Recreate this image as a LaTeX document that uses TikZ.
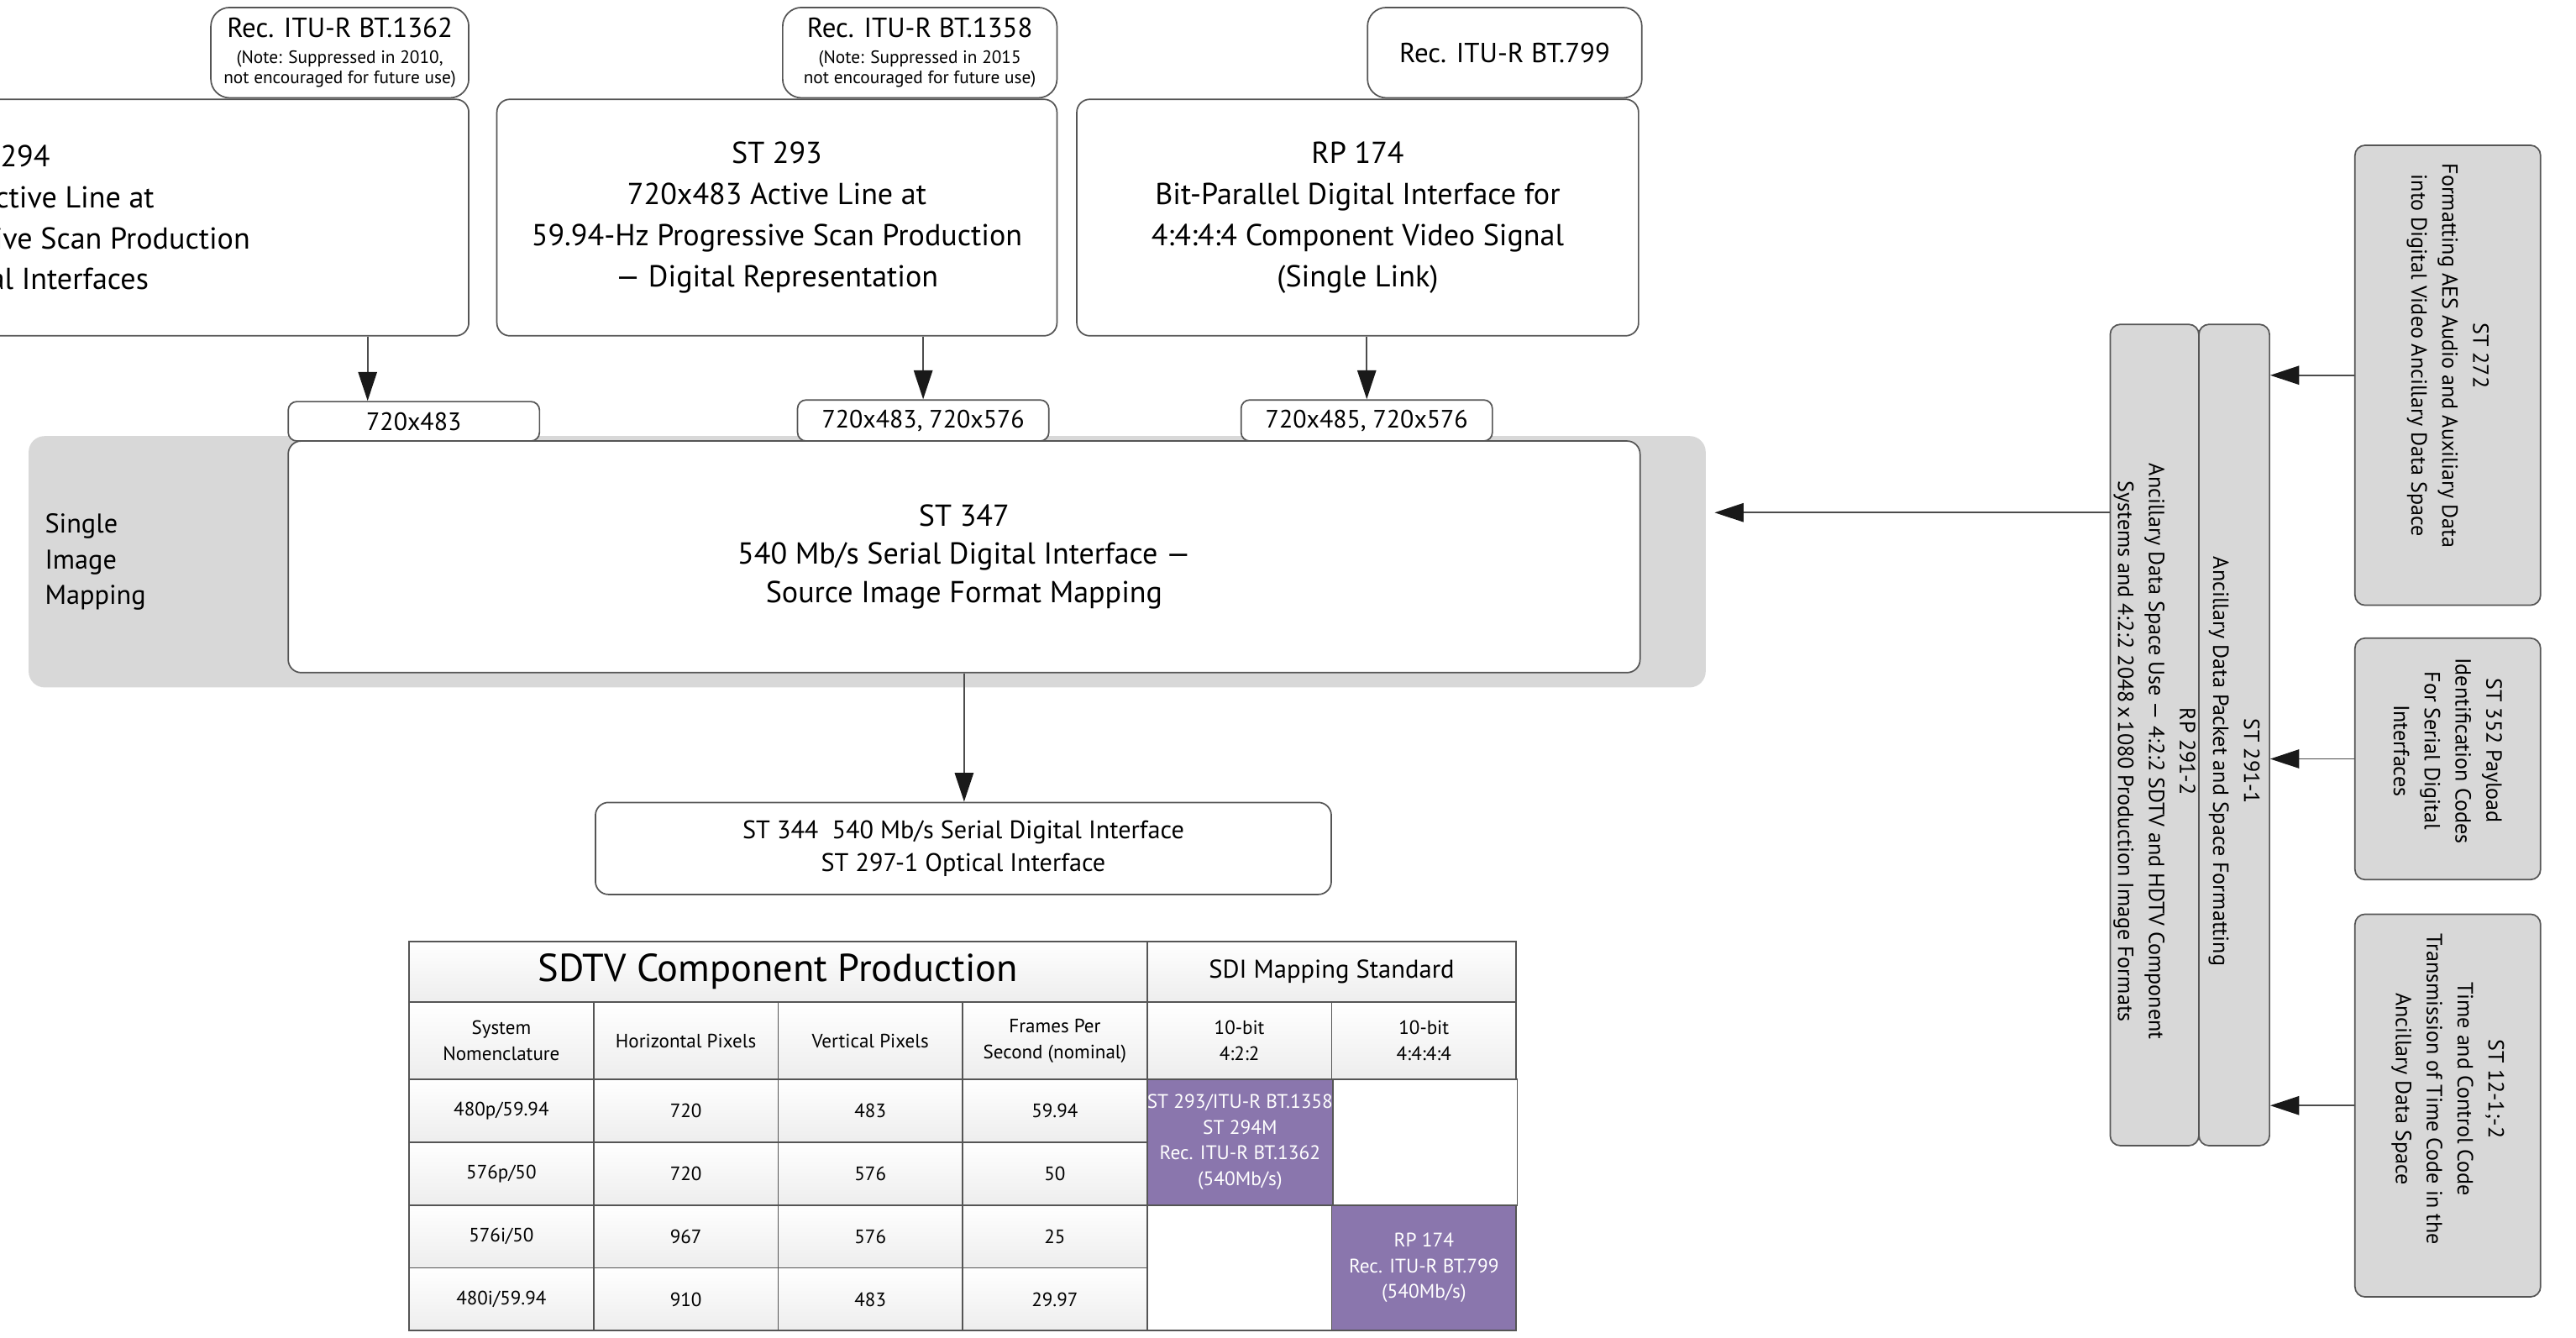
\documentclass[tikz,border=0pt]{standalone}
\usepackage{fontspec}
\setmainfont{PT Sans}
\usetikzlibrary{arrows.meta, positioning, calc}

\definecolor{bandgray}{RGB}{216,216,216}
\definecolor{sdipurple}{RGB}{138,118,173}
\definecolor{edge}{RGB}{85,85,85}

\begin{document}
\begin{tikzpicture}[
    x=0.02cm, y=-0.02cm,
    box/.style     = {rectangle, draw=edge, line width=0.5pt, fill=white,
                      rounded corners=4.5pt, inner sep=0pt, align=center,
                      anchor=north west},
    bigbox/.style  = {box, minimum height=2.88cm,
                      font=\fontsize{10.5}{14.2}\selectfont},
    recbox/.style  = {box, rounded corners=6.5pt, minimum height=1.1cm,
                      font=\fontsize{6.2}{6.9}\selectfont},
    fmtbox/.style  = {box, rounded corners=3pt, minimum width=3.06cm,
                      minimum height=0.5cm, font=\fontsize{8.7}{10}\selectfont},
    ancbox/.style  = {box, fill=bandgray, rounded corners=3.5pt},
    vtext/.style   = {rotate=-90, align=center, inner sep=0pt,
                      font=\fontsize{7.6}{10.7}\selectfont},
    bandlbl/.style = {align=left, anchor=west, inner sep=0pt,
                      font=\fontsize{9.4}{12.5}\selectfont},
    cellbase/.style= {rectangle, draw=edge, line width=0.5pt, inner sep=0pt,
                      outer sep=0pt, align=center, minimum width=2.2467cm,
                      minimum height=0.765cm,
                      font=\fontsize{6.7}{9}\selectfont},
    cell/.style    = {cellbase, top color=white, bottom color=black!7},
    sdicell/.style = {cellbase, fill=white, minimum height=1.53cm,
                      anchor=north west},
    purple/.style  = {sdicell, fill=sdipurple, text=white,
                      font=\fontsize{6.8}{8.9}\selectfont},
    arrow/.style   = {draw=black!70, line width=0.5pt,
                      -{Triangle[length=10pt, width=6.5pt, color=black!90]}}
]
\useasboundingbox (0,0) rectangle (1568,814);
\clip (0,0) rectangle (1568,814);

% ---- source formats ----
\node[bigbox, minimum width=11.3cm] (st294) at (-280,60)
    {ST 294\\720x483 Active Line at\\59.94-Hz Progressive Scan Production\\— Bit-Serial Interfaces};
\node[bigbox, minimum width=6.82cm] (st293) at (302,60)
    {ST 293\\720x483 Active Line at\\59.94-Hz Progressive Scan Production\\— Digital Representation};
\node[bigbox, minimum width=6.84cm] (rp174) at (655,60)
    {RP 174\\Bit-Parallel Digital Interface for\\4:4:4:4 Component Video Signal\\(Single Link)};

\node[recbox, minimum width=3.14cm, anchor=south east] (bt1362) at (st294.north east)
    {\fontsize{9.55}{11}\selectfont Rec. ITU-R BT.1362\\[2pt](Note: Suppressed in 2010,\\not encouraged for future use)};
\node[recbox, minimum width=3.34cm, anchor=south east] (bt1358) at (st293.north east)
    {\fontsize{9.55}{11}\selectfont Rec. ITU-R BT.1358\\[2pt](Note: Suppressed in 2015\\not encouraged for future use)};
\node[recbox, minimum width=3.34cm, anchor=south east,
      font=\fontsize{9.55}{11}\selectfont] (bt799) at ([xshift=0.04cm]rp174.north east)
    {Rec. ITU-R BT.799};

% ---- single image mapping ----
\node[box, fill=bandgray, draw=none, rounded corners=5.5pt,
      minimum width=20.42cm, minimum height=3.06cm] (band) at (17,265) {};
\node[bandlbl] (bandtxt) at (27,342) {Single\\Image\\Mapping};
\node[box, minimum width=16.46cm, minimum height=2.82cm,
      font=\fontsize{10.5}{13.2}\selectfont] (st347) at (175,268)
    {ST 347\\540 Mb/s Serial Digital Interface —\\Source Image Format Mapping};

\node[fmtbox, minimum height=0.48cm] (f483) at (175,244) {720x483};
\node[fmtbox] (f576) at (485,243) {720x483, 720x576};
\node[fmtbox] (f485) at (755,243) {720x485, 720x576};

\draw[arrow] ($(st294.south east)+(-62,0)$) coordinate (a294) -- (a294 |- f483.north);
\draw[arrow] (st293.south -| f576.north) -- (f576.north);
\draw[arrow] (rp174.south -| f485.north) -- (f485.north);

% ---- interface ----
\node[box, minimum width=8.96cm, minimum height=1.12cm,
      font=\fontsize{8.8}{11.3}\selectfont] (st344) at (362,488)
    {ST 344\ \ 540 Mb/s Serial Digital Interface\\ST 297-1 Optical Interface};
\draw[arrow] (st347.south) -- (st347.south |- st344.north);

% ---- ancillary data ----
\node[ancbox, minimum width=1.08cm, minimum height=10cm] (rp291) at (1284,197) {};
\node[ancbox, minimum width=0.86cm, minimum height=10cm] (st291) at (1338,197) {};
\node[ancbox, minimum width=2.26cm, minimum height=5.6cm] (st272) at (1433,88) {};
\node[ancbox, minimum width=2.26cm, minimum height=2.94cm] (st352) at (1433,388) {};
\node[ancbox, minimum width=2.26cm, minimum height=4.66cm] (st12) at (1433,556) {};

\node[vtext] (rp291txt) at ($(rp291)+(0,10)$)
    {RP 291-2\\Ancillary Data Space Use — 4:2:2 SDTV and HDTV Component\\Systems and 4:2:2 2048\,x\,1080 Production Image Formats};
\node[vtext] (st291txt) at ($(st291)+(0,16)$)
    {ST 291-1\\Ancillary Data Packet and Space Formatting};
\node[vtext] (st272txt) at ($(st272)+(0,-12)$)
    {ST 272\\Formatting AES Audio and Auxiliary Data\\into Digital Video Ancillary Data Space};
\node[vtext] (st352txt) at ($(st352)+(0,-5)$)
    {ST 352 Payload\\Identification Codes\\For Serial Digital\\Interfaces};
\node[vtext] (st12txt) at ($(st12)+(0,-10)$)
    {ST 12-1;-2\\Time and Control Code\\Transmission of Time Code in the\\Ancillary Data Space};

\draw[arrow] (st272.west) -- (st272.west -| st291.east);
\draw[arrow] (st352.west) -- (st352.west -| st291.east);
\draw[arrow] (st12.west) -- (st12.west -| st291.east);
\draw[arrow] ($(rp291.north west)+(0,115)$) coordinate (a291)
    -- ([xshift=0.1cm]band.east |- a291);

% ---- SDTV table ----
\node[cell, anchor=north west, minimum width=8.987cm, minimum height=0.74cm,
      font=\fontsize{13.5}{16}\selectfont] (hsdtv) at (249,573)
    {SDTV Component Production};
\node[cell, right=0pt of hsdtv, minimum width=4.493cm, minimum height=0.74cm,
      font=\fontsize{8.9}{10}\selectfont] (hsdi) {SDI Mapping Standard};

\node[cell, anchor=north west, minimum height=0.94cm] (hsys) at (hsdtv.south west) {System\\Nomenclature};
\node[cell, right=0pt of hsys, minimum height=0.94cm] (hhor) {Horizontal Pixels};
\node[cell, right=0pt of hhor, minimum height=0.94cm] (hver) {Vertical Pixels};
\node[cell, right=0pt of hver, minimum height=0.94cm] (hfps) {Frames Per\\Second (nominal)};
\node[cell, right=0pt of hfps, minimum height=0.94cm] (h422) {10-bit\\4:2:2};
\node[cell, right=0pt of h422, minimum height=0.94cm] (h444) {10-bit\\4:4:4:4};

\foreach \nm/\hp/\vp/\fr [count=\r from 0] in
    {{480p/59.94}/720/483/59.94, {576p/50}/720/576/50,
     {576i/50}/967/576/25, {480i/59.94}/910/483/29.97}{
  \node[cell, anchor=north west] (nom\r) at (249,657+38.25*\r) {\nm};
  \node[cell, right=0pt of nom\r] (hpx\r) {\hp};
  \node[cell, right=0pt of hpx\r] (vpx\r) {\vp};
  \node[cell, right=0pt of vpx\r] (fps\r) {\fr};
}

\node[purple] (sdi422) at (fps0.north east)
    {ST 293/ITU-R BT.1358\\ST 294M\\Rec. ITU-R BT.1362\\(540Mb/s)};
\node[sdicell] (sdi444a) at (sdi422.north east) {};
\node[sdicell] (sdi422b) at (fps2.north east) {};
\node[purple] (sdi444) at (sdi422b.north east)
    {RP 174\\Rec. ITU-R BT.799\\(540Mb/s)};

\end{tikzpicture}
\end{document}
